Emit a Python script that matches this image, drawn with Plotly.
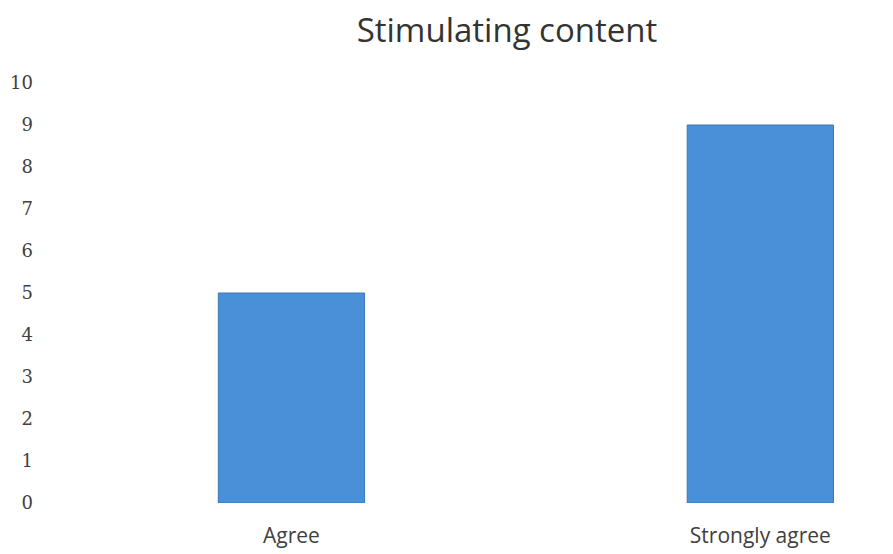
import plotly.graph_objects as go

categories = ["Agree", "Strongly agree"]
values = [5, 9]
y_ticks = [0, 1, 2, 3, 4, 5, 6, 7, 8, 9, 10]

fig = go.Figure(go.Bar(
    x=categories, y=values, width=0.312,
    marker=dict(color="#4a90d8", line=dict(color="#3a78b8", width=1)),
))

fig.update_layout(
    width=893, height=554,
    margin=dict(l=49, r=0, t=75, b=59),
    paper_bgcolor="white", plot_bgcolor="white",
    showlegend=False,
    title=dict(text="Stimulating content", x=499/893, xanchor="center",
               y=1-22/554, yanchor="middle",
               font=dict(family="Open Sans", size=33, color="#333333")),
    xaxis=dict(type="category", range=[-0.5, 1.3], showgrid=False,
               showline=False, ticks="", ticklabelstandoff=18,
               tickfont=dict(family="Open Sans", size=21, color="#404040")),
    yaxis=dict(range=[0, 10], tickvals=y_ticks, showgrid=False,
               zeroline=False, showline=False,
               ticks="", ticklabelstandoff=23,
               tickfont=dict(family="DejaVu Serif", size=18, color="#404040")),
)

fig.write_html("out.html")
